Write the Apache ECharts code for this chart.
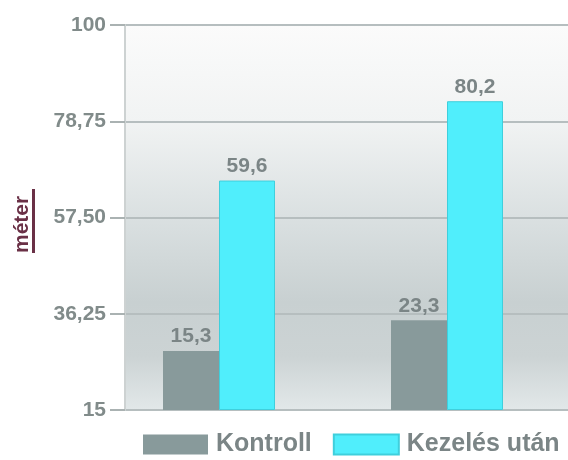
<!DOCTYPE html>
<html>
<head>
<meta charset="utf-8">
<script src="https://cdn.jsdelivr.net/npm/echarts@6/dist/echarts.min.js"></script>
<style>
  html, body { margin: 0; padding: 0; background: #ffffff; }
  #chart { width: 568px; height: 460px; }
</style>
</head>
<body>
<div id="chart"></div>
<script>
// Chart data
const categories = ['1', '2'];
const seriesNames = ['Kontroll', 'Kezelés után'];
const kontroll = [15.3, 23.3];
const kezelesUtan = [59.6, 80.2];
const tickLabels = ['15', '36,25', '57,50', '78,75', '100'];
const axisTitle = 'méter';

const FONT = '"Liberation Sans", Arial, sans-serif';
const GRAY = '#889a9b';
const CYAN = '#50eefc';
const TEXT = '#7b8586';

const chart = echarts.init(document.getElementById('chart'), null, { renderer: 'canvas' });

const commaFmt = v => String(v).replace('.', ',');

chart.setOption({
  animation: false,
  backgroundColor: '#ffffff',
  grid: [
    // frame grid: axis, grid lines and shaded background
    {
      left: 125, right: 0, top: 25, bottom: 50,
      show: true,
      borderWidth: 0,
      backgroundColor: {
        type: 'linear', x: 0, y: 0, x2: 0, y2: 1,
        colorStops: [
          { offset: 0, color: '#fbfbfb' },
          { offset: 0.25, color: '#f1f3f3' },
          { offset: 0.5, color: '#dae0e1' },
          { offset: 0.72, color: '#c8d0d1' },
          { offset: 0.86, color: '#ccd3d4' },
          { offset: 1, color: '#e2e8e9' }
        ]
      }
    },
    // bar grid
    { left: 105, right: 7, top: 25, bottom: 50 }
  ],
  xAxis: [
    { gridIndex: 0, type: 'category', data: categories, show: false },
    { gridIndex: 1, type: 'category', data: categories, show: false }
  ],
  yAxis: [
    {
      gridIndex: 0, type: 'value', min: 0, max: 100, interval: 25,
      axisLine: { show: true, lineStyle: { color: '#cdd2d2', width: 2 } },
      axisTick: { show: true, length: 15, lineStyle: { color: '#aab2b2', width: 2 } },
      axisLabel: {
        margin: 19,
        color: '#818b8a',
        fontFamily: FONT,
        fontWeight: 'bold',
        fontSize: 21,
        formatter: v => tickLabels[Math.round(v / 25)]
      },
      splitLine: { show: true, lineStyle: { color: '#b6bebf', width: 2 } }
    },
    { gridIndex: 1, type: 'value', min: 0, max: 100, show: false }
  ],
  legend: {
    left: 143, top: 432, padding: 0,
    itemWidth: 65, itemHeight: 20, itemGap: 21,
    icon: 'rect',
    textStyle: { color: TEXT, fontFamily: FONT, fontWeight: 'bold', fontSize: 25, padding: [0, 0, 0, 3] },
    data: seriesNames
  },
  series: [
    {
      name: seriesNames[0], type: 'bar', xAxisIndex: 1, yAxisIndex: 1,
      data: kontroll,
      barWidth: 56, barGap: '0%',
      itemStyle: { color: GRAY },
      label: {
        show: true, position: 'top', distance: 4,
        color: TEXT, fontFamily: FONT, fontWeight: 'bold', fontSize: 21,
        formatter: p => commaFmt(p.value)
      }
    },
    {
      name: seriesNames[1], type: 'bar', xAxisIndex: 1, yAxisIndex: 1,
      data: kezelesUtan,
      barWidth: 56, barGap: '0%',
      itemStyle: { color: CYAN, borderColor: '#3fcfdc', borderWidth: 1 },
      label: {
        show: true, position: 'top', distance: 4,
        color: TEXT, fontFamily: FONT, fontWeight: 'bold', fontSize: 21,
        formatter: p => commaFmt(p.value)
      }
    }
  ],
  graphic: [
    {
      type: 'group', left: 12, top: 189,
      children: [
        {
          type: 'text', rotation: Math.PI / 2, x: 0, y: 64,
          style: {
            text: axisTitle, fill: '#6a3046',
            font: 'bold 21px ' + FONT,
            textVerticalAlign: 'top', textAlign: 'left'
          }
        },
        {
          type: 'rect', shape: { x: 20, y: 0, width: 3, height: 64 },
          style: { fill: '#6a3046' }
        }
      ]
    }
  ]
});
</script>
</body>
</html>
